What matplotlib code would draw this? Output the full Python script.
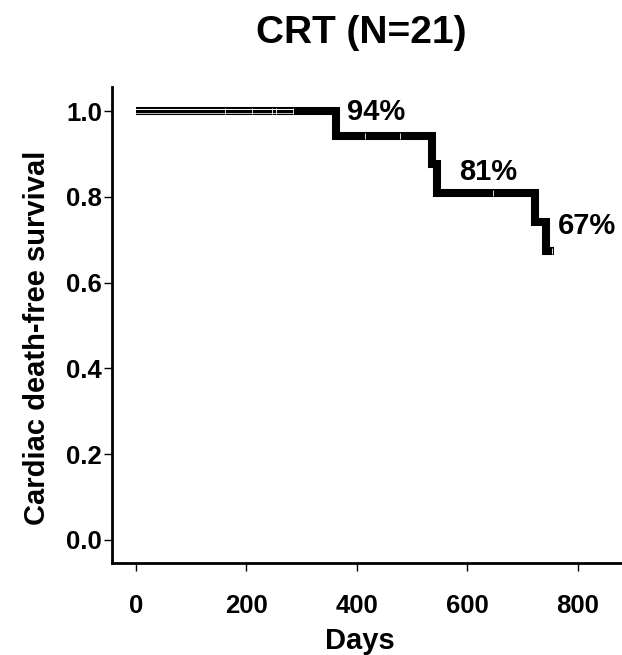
import matplotlib
matplotlib.use("Agg")
import matplotlib.pyplot as plt

plt.rcParams['font.family'] = ['Liberation Sans', 'DejaVu Sans']
plt.rcParams['font.weight'] = 'bold'

# Kaplan-Meier step curve (days, survival)
times = [0, 362, 536, 545, 722, 742, 756]
surv = [1.0, 0.943, 0.877, 0.81, 0.742, 0.674, 0.674]

# censored observations
cens_days = [161, 210, 246, 253, 284, 414, 478, 646, 754]
cens_surv = [1.0, 1.0, 1.0, 1.0, 1.0, 0.943, 0.943, 0.81, 0.674]

labels = ['94%', '81%', '67%']
label_x = [382, 586, 764]
label_y = [0.998, 0.859, 0.733]

fig = plt.figure(figsize=(6.22, 6.55), dpi=100)
ax = fig.add_axes([0.18, 0.1405, 0.82, 0.7265])

ax.step(times, surv, where='post', color='black', lw=5.8, solid_joinstyle='miter',
        solid_capstyle='butt', zorder=2)
# thin white inner lines on the first (heavily censored) stretch
ax.plot([0, 284], [1.004, 1.004], color='white', lw=0.7, zorder=3)
ax.plot([0, 284], [0.996, 0.996], color='#dddddd', lw=0.6, zorder=3)
# censor ticks
ax.plot(cens_days, cens_surv, linestyle='none', marker='|', markersize=5,
        markeredgewidth=0.6, color='white', zorder=4)

for t, x, y in zip(labels, label_x, label_y):
    ax.text(x, y, t, fontsize=21, fontweight='bold', ha='left', va='center')

ax.set_xlim(-43.4, 880)
ax.set_ylim(-0.054, 1.056)
ax.set_xticks([0, 200, 400, 600, 800])
ax.set_yticks([0.0, 0.2, 0.4, 0.6, 0.8, 1.0])
ax.set_yticklabels(['0.0', '0.2', '0.4', '0.6', '0.8', '1.0'])
ax.tick_params(axis='both', labelsize=18.5, width=1, length=6, direction='out')
ax.tick_params(axis='x', pad=16)
ax.tick_params(axis='y', pad=1)
for lab in ax.get_xticklabels() + ax.get_yticklabels():
    lab.set_fontweight('bold')

ax.spines['top'].set_visible(False)
ax.spines['right'].set_visible(False)
ax.spines['left'].set_linewidth(2)
ax.spines['bottom'].set_linewidth(2)

fig.text(0.58, 0.95, 'CRT (N=21)', fontsize=28, fontweight='bold', ha='center', va='center')
fig.text(0.579, 0.022, 'Days', fontsize=21, fontweight='bold', ha='center', va='center')
fig.text(0.06, 0.485, 'Cardiac death-free survival', fontsize=21, fontweight='bold',
         ha='center', va='center', rotation=90)

fig.savefig('out.png', dpi=100)
